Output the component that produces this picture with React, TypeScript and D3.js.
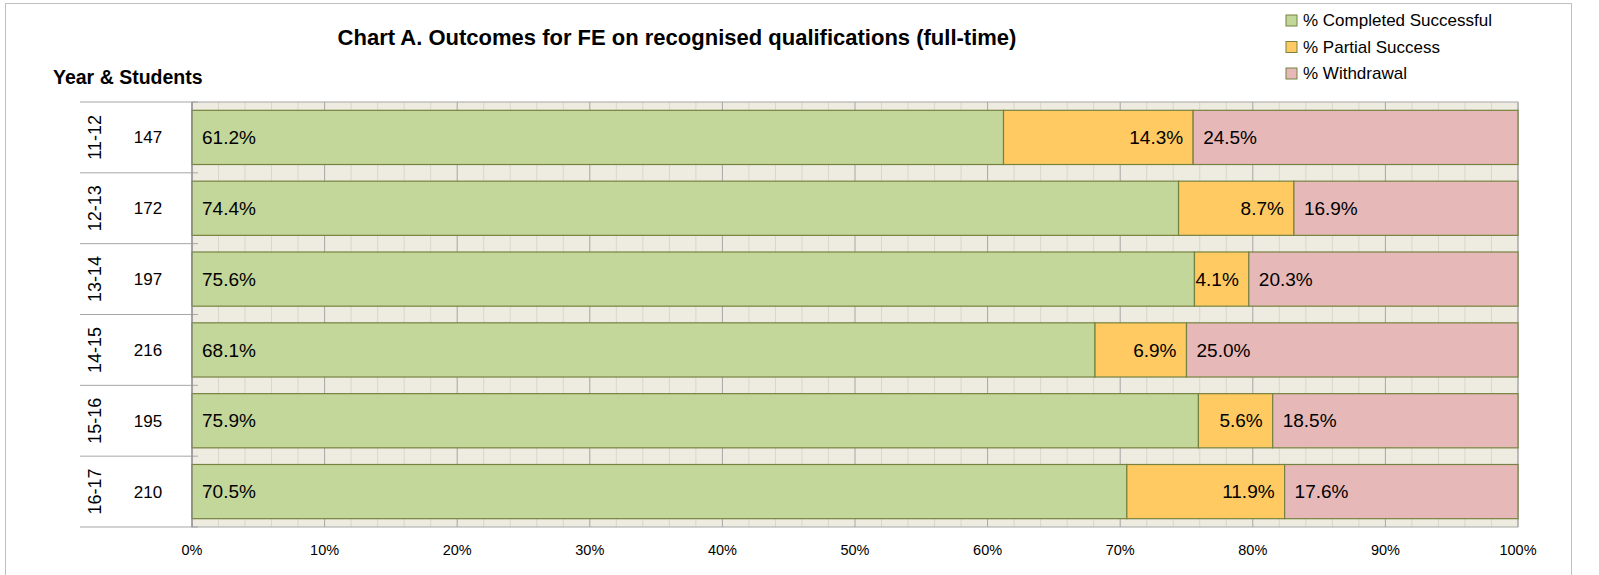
import { useEffect, useRef } from 'react'
import * as d3 from 'd3'

const years = ['11-12', '12-13', '13-14', '14-15', '15-16', '16-17']
const students = [147, 172, 197, 216, 195, 210]
const completed = [61.2, 74.4, 75.6, 68.1, 75.9, 70.5]
const partial = [14.3, 8.7, 4.1, 6.9, 5.6, 11.9]
const withdrawal = [24.5, 16.9, 20.3, 25.0, 18.5, 17.6]
const seriesNames = ['% Completed Successful', '% Partial Success', '% Withdrawal']
const seriesColors = ['#C4D79B', '#FFCA62', '#E6B8B7']
const xTicks = [0, 10, 20, 30, 40, 50, 60, 70, 80, 90, 100]

const FONT = '"Liberation Sans", Arial, sans-serif'

export default function App() {
  const ref = useRef<SVGSVGElement>(null)

  useEffect(() => {
    const svg = d3.select(ref.current)
    svg.selectAll('*').remove()

    const W = 1599, H = 575
    const plot = { left: 192, right: 1518, top: 102, bottom: 527 }

    // outer frame
    svg.append('rect')
      .attr('x', 5.5).attr('y', 3.5).attr('width', 1566).attr('height', 620)
      .attr('fill', '#fff').attr('stroke', '#BFBFBF')

    const x = d3.scaleLinear().domain([0, 100]).range([plot.left, plot.right])
    const y = d3.scaleBand<string>().domain(years).range([plot.top, plot.bottom]).paddingInner(0.235).paddingOuter(0.1175)

    // plot background
    svg.append('rect')
      .attr('x', plot.left).attr('y', plot.top)
      .attr('width', plot.right - plot.left).attr('height', plot.bottom - plot.top)
      .attr('fill', '#EEECE1')

    // minor grid
    svg.append('g').selectAll('line')
      .data(d3.range(0, 101, 2).filter(v => v % 10 !== 0))
      .enter().append('line')
      .attr('x1', d => x(d)).attr('x2', d => x(d))
      .attr('y1', plot.top).attr('y2', plot.bottom)
      .attr('stroke', '#D9D7CC').attr('stroke-width', 1)

    // major grid
    svg.append('g').selectAll('line')
      .data(xTicks)
      .enter().append('line')
      .attr('x1', d => x(d)).attr('x2', d => x(d))
      .attr('y1', plot.top).attr('y2', plot.bottom)
      .attr('stroke', '#A6A6A6').attr('stroke-width', 1)

    svg.append('rect')
      .attr('x', plot.left).attr('y', plot.top)
      .attr('width', plot.right - plot.left).attr('height', plot.bottom - plot.top)
      .attr('fill', 'none').attr('stroke', '#A6A6A6')

    // stacked bars
    const rows = years.map((yr, i) => ({ yr, vals: [completed[i], partial[i], withdrawal[i]] }))
    const segs: { yr: string, s: number, x0: number, x1: number, v: number }[] = []
    rows.forEach(r => {
      let acc = 0
      r.vals.forEach((v, s) => {
        segs.push({ yr: r.yr, s, x0: acc, x1: acc + v, v })
        acc += v
      })
    })

    svg.append('g').selectAll('rect')
      .data(segs)
      .enter().append('rect')
      .attr('x', d => x(d.x0)).attr('width', d => x(d.x1) - x(d.x0))
      .attr('y', d => y(d.yr)!).attr('height', y.bandwidth())
      .attr('fill', d => seriesColors[d.s])
      .attr('stroke', '#76823F').attr('stroke-width', 1.2)

    // data labels
    svg.append('g').selectAll('text')
      .data(segs)
      .enter().append('text')
      .attr('x', d => d.s === 1 ? x(d.x1) - 10 : x(d.x0) + 10)
      .attr('y', d => y(d.yr)! + y.bandwidth() / 2)
      .attr('dy', '0.35em')
      .attr('text-anchor', d => d.s === 1 ? 'end' : 'start')
      .style('font-family', FONT).style('font-size', '19px').attr('fill', '#000')
      .text(d => `${d.v.toFixed(1)}%`)

    // category axis: separators, years, counts
    const bounds = years.map((_, i) => plot.top + i * (plot.bottom - plot.top) / years.length).concat([plot.bottom])
    svg.append('g').selectAll('line')
      .data(bounds)
      .enter().append('line')
      .attr('x1', 80).attr('x2', 198)
      .attr('y1', d => d).attr('y2', d => d)
      .attr('stroke', '#A6A6A6')
    svg.append('line')
      .attr('x1', plot.left).attr('x2', plot.left)
      .attr('y1', plot.top).attr('y2', plot.bottom)
      .attr('stroke', '#8C8C8C')

    const cy = (yr: string) => y(yr)! + y.bandwidth() / 2
    svg.append('g').selectAll('text')
      .data(years)
      .enter().append('text')
      .attr('transform', d => `translate(95,${cy(d)}) rotate(-90)`)
      .attr('text-anchor', 'middle').attr('dy', '0.35em')
      .style('font-family', FONT).style('font-size', '18px')
      .text(d => d)
    svg.append('g').selectAll('text')
      .data(students)
      .enter().append('text')
      .attr('x', 148).attr('y', (d, i) => cy(years[i]))
      .attr('text-anchor', 'middle').attr('dy', '0.35em')
      .style('font-family', FONT).style('font-size', '17px')
      .text(d => d)

    // x axis labels
    svg.append('g').selectAll('text')
      .data(xTicks)
      .enter().append('text')
      .attr('x', d => x(d)).attr('y', 550)
      .attr('text-anchor', 'middle').attr('dy', '0.35em')
      .style('font-family', FONT).style('font-size', '14.5px')
      .text(d => `${d}%`)

    // title
    svg.append('text')
      .attr('x', 677).attr('y', 37).attr('dy', '0.35em')
      .attr('text-anchor', 'middle')
      .style('font-family', FONT).style('font-size', '22px').style('font-weight', 700)
      .text('Chart A. Outcomes for FE on recognised qualifications (full-time)')

    svg.append('text')
      .attr('x', 53).attr('y', 77).attr('dy', '0.35em')
      .style('font-family', FONT).style('font-size', '19.5px').style('font-weight', 700)
      .text('Year & Students')

    // legend
    const legend = svg.append('g')
    legend.selectAll('rect').data(seriesNames).enter().append('rect')
      .attr('x', 1286).attr('y', (d, i) => 15 + i * 26.5).attr('width', 11).attr('height', 11)
      .attr('fill', (d, i) => seriesColors[i]).attr('stroke', '#76823F')
    legend.selectAll('text').data(seriesNames).enter().append('text')
      .attr('x', 1303).attr('y', (d, i) => 20.5 + i * 26.5).attr('dy', '0.35em')
      .style('font-family', FONT).style('font-size', '17px')
      .text(d => d)

    svg.attr('width', W).attr('height', H)
  }, [])

  return <svg ref={ref} width={1599} height={575} style={{ position: 'absolute', left: 0, top: 0, background: '#fff' }} />
}
